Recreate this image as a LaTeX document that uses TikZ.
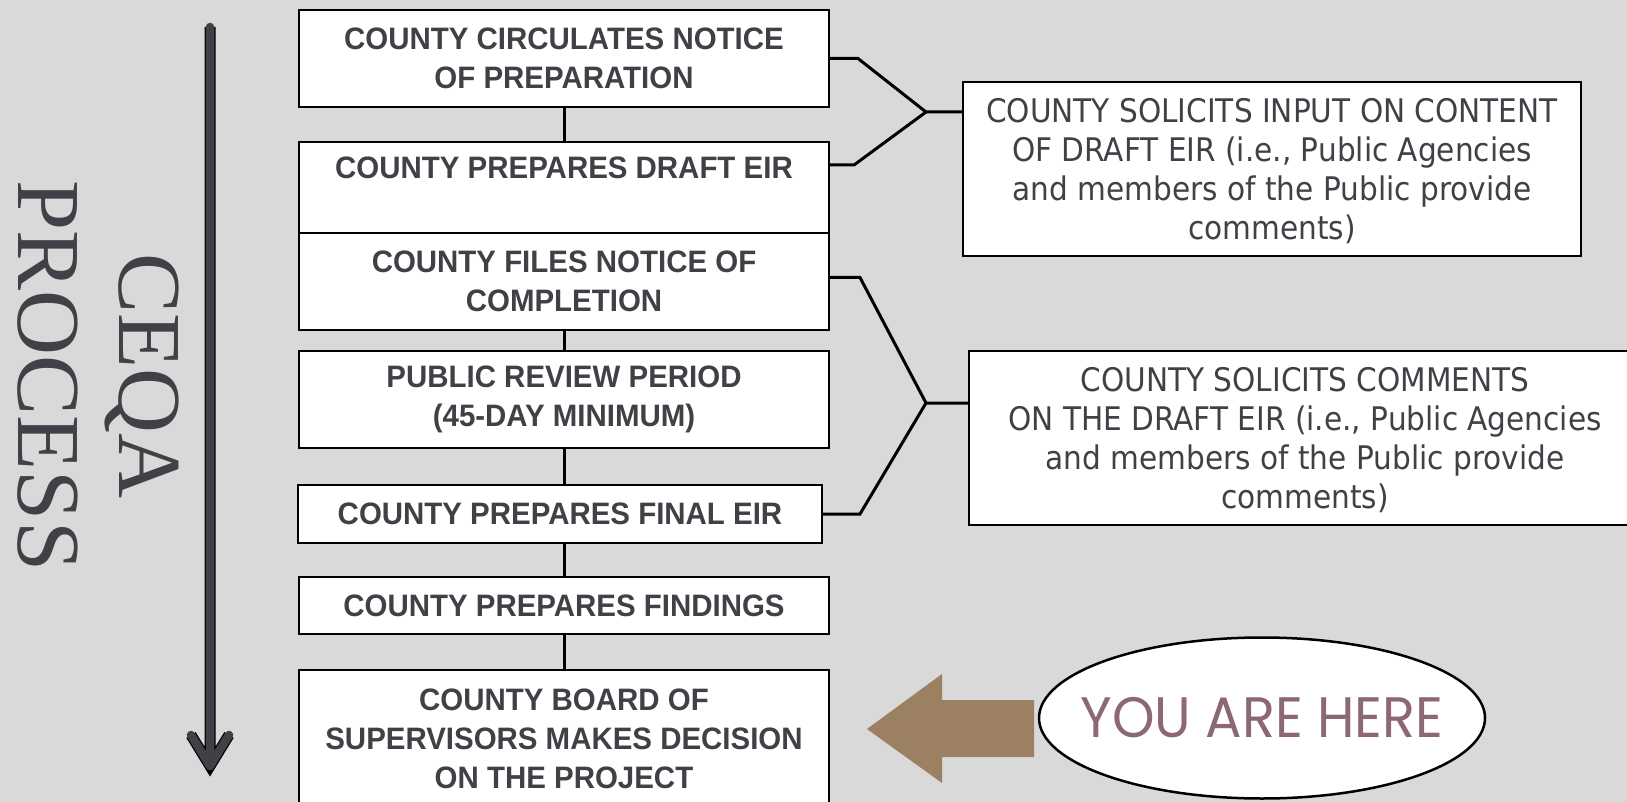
\documentclass[tikz,border=0pt]{standalone}
\usepackage{fontspec}
\setmainfont{Liberation Sans}
\newfontfamily\stagefont[FakeStretch=0.95]{Liberation Sans}
\newfontfamily\notefont[FakeStretch=0.91]{DejaVu Sans}
\newfontfamily\titlefont{Liberation Serif}
\newfontfamily\herefont[FakeStretch=0.95]{Poppins}
\usepackage{tikz}
\usetikzlibrary{positioning,shapes.geometric}
\definecolor{bgGrey}{RGB}{217,217,217}
\definecolor{inkGrey}{RGB}{64,64,70}
\definecolor{hereBrown}{RGB}{155,128,98}
\definecolor{hereMauve}{RGB}{140,104,116}

\begin{document}
\begin{tikzpicture}[x=1pt,y=-1pt,
   stagebox/.style={draw,line width=2pt,fill=white,text=inkGrey,minimum width=530pt,inner sep=0pt,align=center,
      font=\stagefont\bfseries\fontsize{31}{39}\selectfont},
   notebox/.style={draw,line width=2pt,fill=white,text=inkGrey,minimum height=174pt,inner sep=0pt,align=center,
      text depth=0pt,font=\notefont\fontsize{32.5}{39}\selectfont},
   link/.style={line width=3pt},
   flowpen/.style={draw=inkGrey,line width=8.5pt,line cap=round,line join=round,
      preaction={draw=black,line width=11pt}}]
   \fill[bgGrey] (0,0) rectangle (1627,802);
   \useasboundingbox (0,0) rectangle (1627,802);
   \clip (0,0) rectangle (1627,802);

   % time arrow and title
   \coordinate (flowtop) at (210,27);
   \coordinate (flowend) at (210,766);
   \draw[flowpen] (flowtop) -- (flowend)
      ([xshift=-19pt,yshift=31pt]flowend) -- (flowend) -- ([xshift=19pt,yshift=31pt]flowend);
   \node[rotate=-90,align=center,inner sep=0pt,text=inkGrey,font=\titlefont\fontsize{90}{101}\selectfont]
      (ceqa) at (98,376) {CEQA\\PROCESS};

   % steps
   \node[stagebox,minimum height=97pt] (nop) at (564,58.5) {COUNTY CIRCULATES NOTICE\\OF PREPARATION};
   \node[stagebox,minimum height=91pt,below=33pt of nop] (dei) {COUNTY PREPARES DRAFT EIR\\\mbox{}};
   \node[stagebox,minimum height=97pt,below=-2pt of dei] (noc) {COUNTY FILES NOTICE OF\\COMPLETION};
   \node[stagebox,minimum height=97pt,below=19pt of noc] (rev) {PUBLIC REVIEW PERIOD\\(45-DAY MINIMUM)};
   \node[stagebox,minimum width=524pt,minimum height=58pt,below=35pt of rev,xshift=-4pt] (fin) {COUNTY PREPARES FINAL EIR};
   \node[stagebox,minimum height=57pt,below=32pt of fin,xshift=4pt] (fnd) {COUNTY PREPARES FINDINGS};
   \node[stagebox,minimum height=138pt,below=34pt of fnd] (bos) {COUNTY BOARD OF\\SUPERVISORS MAKES DECISION\\ON THE PROJECT};
   \draw[link] (nop) -- (dei) (noc) -- (rev) (rev.south) -- (rev.south |- fin.north)
      (fnd.north |- fin.south) -- (fnd.north) (fnd) -- (bos);

   % comment periods
   \node[notebox,minimum width=618pt] (soa) at (1272,169)
      {COUNTY SOLICITS INPUT ON CONTENT\\OF DRAFT EIR (i.e., Public Agencies\\and members of the Public provide\\comments)};
   \node[notebox,minimum width=672pt] (sob) at (1305,438)
      {COUNTY SOLICITS COMMENTS\\ON THE DRAFT EIR (i.e., Public Agencies\\and members of the Public provide\\comments)};
   \coordinate (ja) at (926,112);
   \coordinate (jb) at (926,403);
   \draw[link] (nop.east) -- ++(28,0) -- (ja) -- (ja -| soa.west);
   \draw[link] ([yshift=-24pt]dei.north east) -- ++(24,0) -- (ja);
   \draw[link] ([yshift=4pt]noc.east) -- ++(30,0) -- (jb) -- (jb -| sob.west);
   \draw[link] (fin.east) -- ++(37,0) -- (jb);

   % you are here
   \node[ellipse,draw,line width=2.5pt,fill=white,minimum width=446pt,minimum height=161pt,inner sep=0pt,
      text=hereMauve,font=\herefont\fontsize{57}{60}\selectfont] (here) at (1262,718) {\makebox[0pt]{YOU ARE HERE}};
   \coordinate (tip) at (867,729);
   \fill[hereBrown] (tip) -- ++(75,-55) -- ++(0,26) -- ++(92,0) -- ++(0,57) -- ++(-92,0) -- ++(0,26) -- cycle;
\end{tikzpicture}
\end{document}
